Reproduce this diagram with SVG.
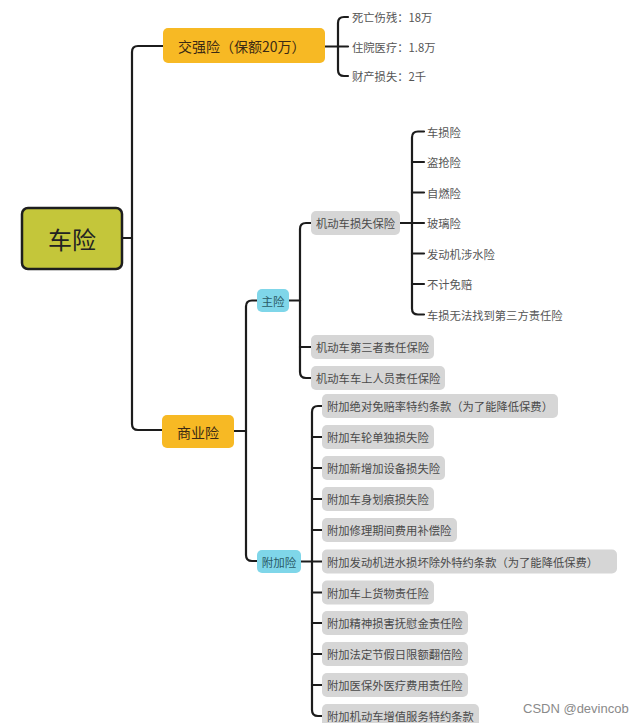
<svg xmlns="http://www.w3.org/2000/svg" width="643" height="723" viewBox="0 0 643 723">
<style>
text{font-family:"Noto Sans CJK SC","Noto Sans",sans-serif;dominant-baseline:central}
.conn path{fill:none;stroke:#1c1c1c;stroke-width:2.2;stroke-linecap:round}
.root{fill:#c4c63a;stroke:#1e1e1e;stroke-width:2.5}
.amber{fill:#f7b924}
.cyan{fill:#7fd6e9}
.gray{fill:#d6d6d6}
.t1{font-size:14px;fill:#3b2a14}
.tc{font-size:11.5px;fill:#2a5a66}
.tg{font-size:11.3px;fill:#4a4a4a}
.tl{font-size:11.3px;fill:#555}
.wm{font-family:"Liberation Sans",Arial,sans-serif;font-size:13px;fill:#8a8a8a;dominant-baseline:auto}
</style>
<rect width="643" height="723" fill="#ffffff"/>
<g class="conn" id="connectors">
<path d="M122,238 H132"/>
<path d="M163,46 H138 Q132,46 132,52 V424 Q132,430 138,430 H162"/>
<path d="M325,46.5 H348"/>
<path d="M348,17 H344 Q338,17 338,23 V70 Q338,76 344,76 H348"/>
<path d="M234,431 H246"/>
<path d="M257,300.5 H252 Q246,300.5 246,306.5 V555 Q246,561 252,561 H257"/>
<path d="M289,300.5 H300"/>
<path d="M311,223 H306 Q300,223 300,229 V372 Q300,378 306,378 H311"/>
<path d="M300,347 H311"/>
<path d="M400,223 H424"/>
<path d="M424,131.5 H418 Q412,131.5 412,137.5 V308.5 Q412,314.5 418,314.5 H424"/>
<path d="M412,162 H424"/><path d="M412,192.5 H424"/><path d="M412,253.5 H424"/><path d="M412,284 H424"/>
<path d="M301,561.5 H322"/>
<path d="M322,406 H318 Q312,406 312,412 V710 Q312,716 318,716 H322"/>
<path d="M312,437 H322"/><path d="M312,468 H322"/><path d="M312,499 H322"/><path d="M312,530 H322"/><path d="M312,592.5 H322"/><path d="M312,623 H322"/><path d="M312,654 H322"/><path d="M312,685 H322"/>
</g>
<g id="root"><rect class="root" x="22" y="208" width="100" height="61" rx="6"/><text x="72" y="238.5" text-anchor="middle" font-size="24" fill="#222">车险</text></g>
<g id="jiaoqiang"><rect class="amber" x="163" y="28" width="162" height="35" rx="5"/><text class="t1" x="178" y="46">交强险（保额20万）</text></g>
<g id="jq1"><text class="tl" x="352" y="17">死亡伤残：18万</text></g>
<g id="jq2"><text class="tl" x="352" y="47">住院医疗：1.8万</text></g>
<g id="jq3"><text class="tl" x="352" y="76">财产损失：2千</text></g>
<g id="shangye"><rect class="amber" x="162" y="415" width="72" height="33" rx="5"/><text class="t1" x="198" y="431.5" text-anchor="middle">商业险</text></g>
<g id="zhuxian"><rect class="cyan" x="257" y="289" width="32" height="23" rx="5"/><text class="tc" x="273" y="300.5" text-anchor="middle">主险</text></g>
<g id="fujiaxian"><rect class="cyan" x="257" y="550" width="44" height="23" rx="5"/><text class="tc" x="279" y="561.5" text-anchor="middle">附加险</text></g>
<g id="m1"><rect class="gray" x="311" y="211" width="89" height="24" rx="5"/><text class="tg" x="316" y="223">机动车损失保险</text></g>
<g id="m2"><rect class="gray" x="311" y="335" width="123" height="24" rx="5"/><text class="tg" x="316" y="347">机动车第三者责任保险</text></g>
<g id="m3"><rect class="gray" x="311" y="366" width="134" height="24" rx="5"/><text class="tg" x="316" y="378">机动车车上人员责任保险</text></g>
<g id="l1"><text class="tl" x="427" y="131.5">车损险</text></g>
<g id="l2"><text class="tl" x="427" y="162">盗抢险</text></g>
<g id="l3"><text class="tl" x="427" y="192.5">自燃险</text></g>
<g id="l4"><text class="tl" x="427" y="223">玻璃险</text></g>
<g id="l5"><text class="tl" x="427" y="253.5">发动机涉水险</text></g>
<g id="l6"><text class="tl" x="427" y="284">不计免赔</text></g>
<g id="l7"><text class="tl" x="427" y="314.5">车损无法找到第三方责任险</text></g>
<g id="f1"><rect class="gray" x="322" y="394" width="236" height="24" rx="5"/><text class="tg" x="327" y="406">附加绝对免赔率特约条款（为了能降低保费）</text></g>
<g id="f2"><rect class="gray" x="322" y="425" width="112" height="24" rx="5"/><text class="tg" x="327" y="437">附加车轮单独损失险</text></g>
<g id="f3"><rect class="gray" x="322" y="456" width="123" height="24" rx="5"/><text class="tg" x="327" y="468">附加新增加设备损失险</text></g>
<g id="f4"><rect class="gray" x="322" y="487" width="112" height="24" rx="5"/><text class="tg" x="327" y="499">附加车身划痕损失险</text></g>
<g id="f5"><rect class="gray" x="322" y="518" width="135" height="24" rx="5"/><text class="tg" x="327" y="530">附加修理期间费用补偿险</text></g>
<g id="f6"><rect class="gray" x="322" y="549.5" width="295" height="24" rx="5"/><text class="tg" x="327" y="561.5">附加发动机进水损坏除外特约条款（为了能降低保费）</text></g>
<g id="f7"><rect class="gray" x="322" y="580.5" width="112" height="24" rx="5"/><text class="tg" x="327" y="592.5">附加车上货物责任险</text></g>
<g id="f8"><rect class="gray" x="322" y="611" width="146" height="24" rx="5"/><text class="tg" x="327" y="623">附加精神损害抚慰金责任险</text></g>
<g id="f9"><rect class="gray" x="322" y="642" width="146" height="24" rx="5"/><text class="tg" x="327" y="654">附加法定节假日限额翻倍险</text></g>
<g id="f10"><rect class="gray" x="322" y="673" width="146" height="24" rx="5"/><text class="tg" x="327" y="685">附加医保外医疗费用责任险</text></g>
<g id="f11"><rect class="gray" x="322" y="704" width="157" height="24" rx="5"/><text class="tg" x="327" y="716">附加机动车增值服务特约条款</text></g>
<text class="wm" x="523" y="713">CSDN @devincob</text>
</svg>
